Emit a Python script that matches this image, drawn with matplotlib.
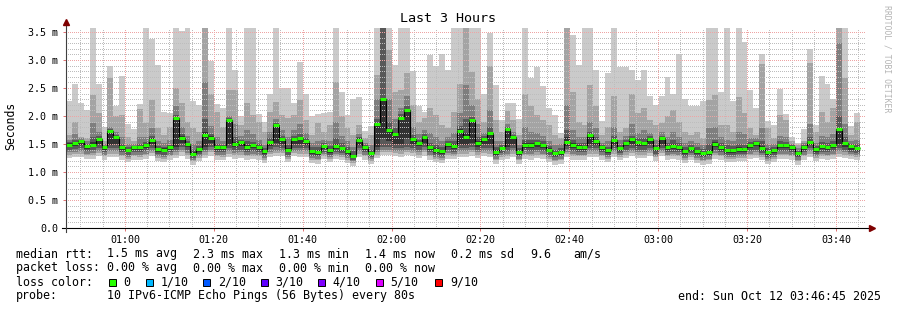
import matplotlib
matplotlib.use("Agg")
import matplotlib.pyplot as plt
from matplotlib.patches import Rectangle
import numpy as np

plt.rcParams['font.family'] = ['DejaVu Sans Mono', 'DejaVu Sans']

# time axis: minutes after midnight, 80 s steps
start_min = 46.75          # 00:46:45
end_min = 226.75           # 03:46:45
step_min = 80 / 60.0

# median rtt per step (ms)
median_rtt = [1.49,1.52,1.55,1.46,1.49,1.59,1.44,1.73,1.62,1.44,
              1.39,1.44,1.44,1.48,1.58,1.41,1.40,1.44,1.96,1.61,
              1.50,1.32,1.41,1.66,1.61,1.44,1.44,1.92,1.50,1.53,
              1.44,1.48,1.44,1.37,1.54,1.84,1.59,1.40,1.59,1.60,
              1.55,1.38,1.36,1.47,1.39,1.47,1.43,1.38,1.29,1.58,
              1.44,1.34,1.86,2.30,1.75,1.68,1.97,2.10,1.59,1.52,
              1.63,1.44,1.39,1.37,1.50,1.47,1.74,1.62,1.92,1.51,
              1.59,1.69,1.36,1.43,1.76,1.63,1.36,1.48,1.48,1.51,
              1.48,1.40,1.34,1.36,1.54,1.48,1.45,1.44,1.66,1.56,
              1.44,1.39,1.57,1.43,1.52,1.59,1.53,1.52,1.59,1.42,
              1.60,1.44,1.47,1.45,1.37,1.43,1.37,1.34,1.36,1.50,
              1.44,1.39,1.39,1.41,1.41,1.48,1.52,1.43,1.35,1.39,
              1.48,1.48,1.44,1.34,1.44,1.54,1.41,1.47,1.44,1.48,
              1.76,1.51,1.46,1.43]

# sorted ping rtts per step (ms), ping_10 = slowest
ping_10 = [2.26,2.57,2.24,2.11,3.90,2.58,1.80,2.89,2.18,2.72,
           1.86,1.77,2.21,3.90,3.38,2.91,2.07,2.05,3.90,3.52,
           3.90,2.27,2.20,3.90,2.99,2.21,2.15,3.90,2.83,2.00,
           3.90,3.90,2.03,1.89,2.40,3.90,2.50,2.50,2.24,2.97,
           2.39,2.00,2.03,2.05,2.07,3.90,2.43,2.02,2.30,2.34,
           1.73,1.83,3.90,3.90,3.90,2.91,3.90,3.90,2.80,2.18,
           2.07,3.09,2.90,3.10,2.82,3.90,3.90,3.90,3.90,3.90,
           2.40,3.48,2.55,1.93,2.23,2.24,1.94,3.90,2.68,2.87,
           2.53,2.14,2.02,1.69,3.90,3.45,2.91,3.90,3.90,2.83,
           1.91,2.76,3.90,2.88,2.88,2.82,2.64,2.82,2.36,2.20,
           2.36,2.69,2.40,3.10,2.31,2.17,2.17,2.26,3.90,3.90,
           2.43,3.90,2.26,3.90,3.32,2.46,2.14,3.10,1.91,1.84,
           2.49,2.03,1.63,1.51,1.77,3.20,1.84,2.71,2.58,2.30,
           3.90,3.90,1.83,2.05]
ping_09 = [1.66,1.90,1.63,1.60,2.38,2.05,1.56,2.68,2.00,2.02,
           1.63,1.56,2.12,1.87,2.28,1.78,1.66,1.81,2.50,2.24,
           1.90,1.78,1.72,3.90,2.40,2.07,1.81,2.46,2.46,1.84,
           2.24,2.02,1.90,1.72,2.07,2.25,2.02,1.96,2.02,2.28,
           1.93,1.66,1.87,1.72,1.84,2.61,2.00,1.78,1.66,1.84,
           1.60,1.66,2.73,3.90,3.18,2.43,2.46,2.76,2.20,1.90,
           1.96,2.14,2.02,1.84,1.78,2.07,2.58,3.90,2.79,2.30,
           1.90,2.90,1.93,1.72,2.09,1.93,1.66,2.40,2.17,2.02,
           1.93,1.84,1.66,1.60,3.90,2.43,1.90,1.84,2.55,2.17,
           1.66,1.81,2.36,1.72,1.78,2.40,2.05,2.14,1.93,1.84,
           1.87,2.00,2.11,1.90,1.72,1.66,1.72,1.60,2.28,2.37,
           1.84,1.84,1.72,2.34,2.05,1.78,1.66,2.92,1.78,1.60,
           2.02,1.93,1.56,1.48,1.56,2.95,1.72,2.07,1.90,2.14,
           3.90,2.67,1.66,1.90]
ping_08 = [1.58,1.68,1.60,1.55,1.87,1.72,1.50,1.81,1.72,1.62,
           1.50,1.50,1.62,1.62,1.78,1.55,1.52,1.58,2.18,1.80,
           1.65,1.50,1.55,2.60,1.82,1.62,1.55,2.00,1.85,1.65,
           1.75,1.68,1.58,1.48,1.72,1.95,1.75,1.62,1.75,1.85,
           1.70,1.52,1.55,1.58,1.55,1.90,1.65,1.55,1.45,1.68,
           1.52,1.48,2.30,3.90,2.30,1.95,2.15,2.35,1.80,1.68,
           1.75,1.70,1.62,1.55,1.62,1.70,2.05,2.55,2.20,1.85,
           1.70,2.10,1.55,1.55,1.85,1.72,1.48,1.80,1.72,1.70,
           1.65,1.55,1.48,1.50,2.20,1.75,1.62,1.62,1.90,1.78,
           1.52,1.55,1.80,1.58,1.65,1.85,1.70,1.75,1.70,1.58,
           1.72,1.62,1.72,1.62,1.52,1.55,1.52,1.48,1.78,1.80,
           1.62,1.58,1.55,1.72,1.68,1.60,1.60,1.78,1.50,1.50,
           1.65,1.62,1.50,1.42,1.52,1.85,1.52,1.65,1.62,1.68,
           3.30,1.85,1.55,1.58]
ping_07 = [1.53,1.58,1.58,1.50,1.62,1.64,1.47,1.76,1.66,1.50,
           1.44,1.47,1.50,1.53,1.65,1.46,1.45,1.49,2.02,1.68,
           1.56,1.40,1.46,1.95,1.68,1.50,1.48,1.96,1.62,1.58,
           1.55,1.54,1.50,1.42,1.60,1.88,1.65,1.48,1.65,1.68,
           1.60,1.44,1.45,1.52,1.46,1.60,1.52,1.45,1.38,1.62,
           1.48,1.40,1.95,3.70,1.90,1.78,2.03,2.18,1.66,1.58,
           1.68,1.52,1.48,1.45,1.55,1.55,1.82,1.95,1.98,1.62,
           1.64,1.80,1.44,1.48,1.80,1.66,1.42,1.58,1.58,1.58,
           1.55,1.46,1.40,1.42,1.75,1.58,1.52,1.52,1.72,1.62,
           1.48,1.45,1.64,1.48,1.58,1.65,1.60,1.60,1.64,1.48,
           1.65,1.52,1.58,1.52,1.44,1.48,1.44,1.41,1.50,1.58,
           1.52,1.48,1.46,1.50,1.48,1.54,1.56,1.55,1.42,1.45,
           1.55,1.54,1.48,1.38,1.48,1.62,1.46,1.54,1.52,1.55,
           2.00,1.62,1.50,1.50]
ping_06 = [1.51,1.54,1.57,1.48,1.53,1.61,1.46,1.74,1.64,1.47,
           1.41,1.46,1.47,1.50,1.61,1.43,1.42,1.46,1.97,1.64,
           1.52,1.35,1.43,1.72,1.64,1.46,1.46,1.93,1.54,1.55,
           1.48,1.50,1.46,1.39,1.56,1.85,1.61,1.43,1.61,1.62,
           1.57,1.40,1.39,1.49,1.41,1.50,1.45,1.40,1.31,1.60,
           1.46,1.36,1.87,2.31,1.77,1.70,1.98,2.11,1.61,1.54,
           1.65,1.47,1.42,1.40,1.52,1.50,1.76,1.70,1.93,1.55,
           1.61,1.71,1.39,1.45,1.77,1.64,1.38,1.52,1.51,1.54,
           1.50,1.42,1.36,1.38,1.62,1.51,1.48,1.46,1.67,1.58,
           1.46,1.41,1.59,1.45,1.54,1.61,1.55,1.54,1.61,1.44,
           1.62,1.46,1.50,1.47,1.39,1.45,1.39,1.36,1.39,1.53,
           1.46,1.41,1.41,1.44,1.43,1.50,1.54,1.46,1.37,1.41,
           1.50,1.50,1.46,1.36,1.46,1.56,1.43,1.49,1.46,1.50,
           1.77,1.54,1.48,1.45]
ping_05 = [1.44,1.46,1.48,1.41,1.44,1.50,1.39,1.48,1.50,1.39,
           1.35,1.39,1.39,1.43,1.50,1.36,1.35,1.39,1.45,1.52,
           1.44,1.28,1.36,1.45,1.52,1.39,1.39,1.50,1.44,1.46,
           1.39,1.42,1.39,1.32,1.47,1.52,1.50,1.35,1.50,1.50,
           1.48,1.33,1.31,1.41,1.34,1.41,1.38,1.33,1.25,1.48,
           1.39,1.30,1.45,1.60,1.55,1.50,1.50,1.60,1.50,1.46,
           1.52,1.39,1.34,1.32,1.44,1.41,1.50,1.48,1.52,1.45,
           1.50,1.50,1.31,1.38,1.45,1.50,1.31,1.42,1.42,1.45,
           1.42,1.35,1.29,1.31,1.47,1.42,1.39,1.39,1.50,1.48,
           1.39,1.34,1.48,1.38,1.46,1.50,1.46,1.46,1.50,1.37,
           1.50,1.39,1.41,1.39,1.32,1.38,1.32,1.29,1.31,1.44,
           1.39,1.34,1.34,1.36,1.36,1.42,1.46,1.38,1.30,1.34,
           1.42,1.42,1.39,1.29,1.39,1.48,1.36,1.41,1.39,1.42,
           1.50,1.45,1.40,1.38]
ping_04 = [1.39,1.41,1.42,1.37,1.39,1.43,1.35,1.42,1.42,1.35,
           1.31,1.35,1.35,1.38,1.43,1.32,1.31,1.35,1.40,1.44,
           1.39,1.25,1.32,1.40,1.44,1.35,1.35,1.42,1.39,1.40,
           1.35,1.37,1.35,1.29,1.41,1.44,1.43,1.31,1.43,1.43,
           1.42,1.29,1.28,1.36,1.30,1.36,1.34,1.29,1.22,1.42,
           1.35,1.27,1.40,1.45,1.45,1.43,1.42,1.45,1.43,1.40,
           1.44,1.35,1.30,1.29,1.39,1.36,1.42,1.42,1.44,1.40,
           1.43,1.42,1.28,1.34,1.38,1.42,1.28,1.37,1.37,1.40,
           1.37,1.31,1.26,1.28,1.41,1.37,1.35,1.35,1.42,1.42,
           1.35,1.30,1.42,1.34,1.40,1.43,1.40,1.40,1.43,1.33,
           1.43,1.35,1.36,1.35,1.29,1.34,1.29,1.26,1.28,1.39,
           1.35,1.30,1.30,1.32,1.32,1.37,1.40,1.34,1.27,1.30,
           1.37,1.37,1.35,1.26,1.35,1.42,1.32,1.36,1.35,1.37,
           1.42,1.40,1.36,1.34]
ping_03 = [1.35,1.36,1.37,1.33,1.34,1.38,1.31,1.37,1.37,1.31,
           1.27,1.31,1.30,1.33,1.38,1.28,1.27,1.31,1.35,1.39,
           1.34,1.22,1.28,1.35,1.39,1.31,1.30,1.37,1.34,1.35,
           1.31,1.33,1.31,1.25,1.36,1.38,1.38,1.27,1.38,1.37,
           1.37,1.25,1.24,1.32,1.26,1.32,1.30,1.25,1.19,1.37,
           1.31,1.23,1.35,1.40,1.40,1.38,1.37,1.40,1.38,1.35,
           1.39,1.31,1.26,1.25,1.34,1.32,1.37,1.37,1.39,1.35,
           1.38,1.37,1.24,1.30,1.33,1.37,1.24,1.33,1.32,1.35,
           1.33,1.27,1.22,1.24,1.36,1.32,1.31,1.31,1.37,1.37,
           1.31,1.26,1.37,1.30,1.35,1.38,1.35,1.35,1.38,1.29,
           1.38,1.31,1.32,1.31,1.25,1.30,1.25,1.22,1.24,1.34,
           1.31,1.26,1.26,1.28,1.28,1.33,1.35,1.30,1.23,1.26,
           1.33,1.33,1.31,1.22,1.31,1.37,1.28,1.32,1.31,1.33,
           1.37,1.35,1.32,1.30]
ping_02 = [1.31,1.32,1.33,1.30,1.30,1.34,1.28,1.33,1.33,1.28,
           1.24,1.28,1.27,1.30,1.34,1.25,1.24,1.28,1.31,1.35,
           1.30,1.19,1.25,1.31,1.35,1.28,1.27,1.33,1.30,1.31,
           1.28,1.29,1.28,1.22,1.32,1.34,1.34,1.24,1.34,1.33,
           1.33,1.22,1.21,1.29,1.23,1.29,1.27,1.22,1.16,1.33,
           1.28,1.20,1.31,1.36,1.36,1.34,1.33,1.36,1.34,1.31,
           1.35,1.28,1.23,1.22,1.30,1.29,1.33,1.33,1.35,1.31,
           1.34,1.33,1.21,1.27,1.29,1.33,1.21,1.30,1.28,1.31,
           1.30,1.24,1.19,1.21,1.32,1.28,1.28,1.28,1.33,1.33,
           1.28,1.23,1.33,1.27,1.31,1.34,1.31,1.31,1.34,1.26,
           1.34,1.28,1.29,1.28,1.22,1.27,1.22,1.19,1.21,1.30,
           1.28,1.23,1.23,1.25,1.25,1.30,1.31,1.27,1.20,1.23,
           1.30,1.30,1.28,1.19,1.28,1.33,1.25,1.29,1.28,1.30,
           1.33,1.31,1.29,1.27]
ping_01 = [1.25,1.26,1.27,1.24,1.24,1.28,1.22,1.27,1.27,1.22,
           1.18,1.22,1.21,1.24,1.28,1.19,1.18,1.22,1.25,1.29,
           1.24,1.13,1.19,1.25,1.29,1.22,1.21,1.27,1.24,1.25,
           1.22,1.23,1.22,1.16,1.26,1.28,1.28,1.18,1.28,1.27,
           1.27,1.16,1.15,1.23,1.17,1.23,1.21,1.16,1.10,1.27,
           1.22,1.14,1.25,1.30,1.30,1.28,1.27,1.30,1.28,1.25,
           1.29,1.22,1.17,1.16,1.24,1.23,1.27,1.27,1.29,1.25,
           1.28,1.27,1.15,1.21,1.23,1.27,1.15,1.24,1.22,1.25,
           1.24,1.18,1.13,1.15,1.26,1.22,1.22,1.22,1.27,1.27,
           1.22,1.17,1.27,1.21,1.25,1.28,1.25,1.25,1.28,1.20,
           1.28,1.22,1.23,1.22,1.16,1.21,1.16,1.13,1.15,1.24,
           1.22,1.17,1.17,1.19,1.19,1.24,1.25,1.21,1.14,1.17,
           1.24,1.24,1.22,1.13,1.22,1.27,1.19,1.23,1.22,1.24,
           1.27,1.25,1.23,1.21]

x_tick_min = [60, 80, 100, 120, 140, 160, 180, 200, 220]
x_tick_labels = ["01:00", "01:20", "01:40", "02:00", "02:20",
                 "02:40", "03:00", "03:20", "03:40"]
y_ticks = [0.0, 0.5, 1.0, 1.5, 2.0, 2.5, 3.0, 3.5]
y_tick_labels = ["0.0", "0.5 m", "1.0 m", "1.5 m", "2.0 m", "2.5 m", "3.0 m", "3.5 m"]

loss_labels = ["0", "1/10", "2/10", "3/10", "4/10", "5/10", "9/10"]
loss_colors = ["#26ff00", "#00b8ff", "#0059ff", "#5e00ff", "#7e00ff", "#dd00ff", "#ff0000"]

smoke_colors = ["#cacaca", "#a4a4a4", "#7e7e7e", "#585858", "#323232"]

W, H = 897, 310


def fx(px):
    return px / W


def fy(py):
    return 1 - py / H


fig = plt.figure(figsize=(W / 100, H / 100), dpi=100)
fig.patch.set_facecolor("white")
ax = fig.add_axes([fx(66), fy(228), 800 / W, 200 / H])
ax.set_xlim(start_min, end_min)
ax.set_ylim(0, 200 / 56.0)

n = len(median_rtt)
left = start_min + np.arange(n) * step_min
edges = start_min + np.arange(n + 1) * step_min

lows = [ping_01, ping_02, ping_03, ping_04, ping_05]
highs = [ping_10, ping_09, ping_08, ping_07, ping_06]
for lo, hi, c in zip(lows, highs, smoke_colors):
    lo = np.array(lo)
    hi = np.array(hi)
    ax.bar(left, hi - lo, bottom=lo, width=step_min, align="edge",
           color=c, linewidth=0, antialiased=False, zorder=2)

# dotted grid drawn over the smoke, crisp 1px dots
minor_c = "#bdbdbd"
major_c = "#eea4a4"
dash = (0, (1, 2))


def grid_line(line):
    line.set_antialiased(False)


for v in np.arange(0.1, 3.55, 0.1):
    if abs(v / 0.5 - round(v / 0.5)) < 1e-6:
        continue
    grid_line(ax.axhline(v, color=minor_c, lw=0.72, ls=dash, zorder=3))
for m in range(50, 227, 5):
    if m % 20 == 0:
        continue
    grid_line(ax.axvline(m, color=minor_c, lw=0.72, ls=dash, zorder=3))
for v in y_ticks[1:]:
    grid_line(ax.axhline(v, color=major_c, lw=0.72, ls=dash, zorder=3))
for m in x_tick_min:
    grid_line(ax.axvline(m, color=major_c, lw=0.72, ls=dash, zorder=3))

# median line
ax.stairs(median_rtt, edges, baseline=None, color="black", lw=0.8, zorder=5)
ax.hlines(median_rtt, left, left + step_min, colors=loss_colors[0], lw=2.2, zorder=6)

for s in ax.spines.values():
    s.set_visible(False)
ax.set_xticks(x_tick_min)
ax.set_xticklabels(x_tick_labels, fontsize=7.2)
ax.set_yticks(y_ticks)
ax.set_yticklabels(y_tick_labels, fontsize=7.2)
ax.tick_params(axis="x", length=2, width=0.7, color="#e07070", pad=3)
ax.tick_params(axis="y", length=2, width=0.7, color="#e07070", pad=3.5)

# axis lines with arrows
ax.plot([-4 / 800, 1 + 4 / 800], [0, 0], transform=ax.transAxes, color="black",
        lw=0.8, clip_on=False, zorder=7)
ax.plot([0, 0], [-4 / 200, 1 + 4 / 200], transform=ax.transAxes, color="#404040",
        lw=0.8, clip_on=False, zorder=7)
ax.plot([1 + 6 / 800], [0], transform=ax.transAxes, marker=">", ms=4,
        color="#7f0000", clip_on=False, zorder=8)
ax.plot([0], [1 + 6 / 200], transform=ax.transAxes, marker="^", ms=4,
        color="#7f0000", clip_on=False, zorder=8)

fig.text(fx(448), fy(19), "Last 3 Hours", ha="center", va="center", fontsize=9.6)
fig.text(fx(11), fy(126), "Seconds", ha="center", va="center", rotation=90, fontsize=8.3)
fig.text(fx(887), fy(5), "RRDTOOL / TOBI OETIKER", ha="center", va="top",
         rotation=270, fontsize=5.9, color="#b4b4b4")

fs = 8.4
rows = [
    (254, [(16, "median rtt:"), (107, "1.5 ms avg"), (193, "2.3 ms max"),
           (279, "1.3 ms min"), (365, "1.4 ms now"), (451, "0.2 ms sd"),
           (530, "9.6"), (573, "am/s")]),
    (268, [(16, "packet loss:"), (107, "0.00 % avg"), (193, "0.00 % max"),
           (279, "0.00 % min"), (365, "0.00 % now")]),
    (282, [(16, "loss color:")]),
    (296, [(16, "probe:"), (107, "10 IPv6-ICMP Echo Pings (56 Bytes) every 80s"),
           (678, "end: Sun Oct 12 03:46:45 2025")]),
]
for y, items in rows:
    for x, t in items:
        fig.text(fx(x), fy(y), t, ha="left", va="center", fontsize=fs)

box_x = [108.7, 146, 203.3, 260.7, 318.3, 375.7, 435]
label_x = [123.3, 160.7, 218, 275.3, 332.3, 390, 450]
for bx, lx, lab, c in zip(box_x, label_x, loss_labels, loss_colors):
    fig.patches.append(Rectangle((fx(bx), fy(285.5)), 7 / W, 7 / H,
                                 transform=fig.transFigure, facecolor=c,
                                 edgecolor="black", lw=0.7))
    fig.text(fx(lx), fy(282), lab, ha="left", va="center", fontsize=fs)

fig.savefig("out.png", dpi=100)
